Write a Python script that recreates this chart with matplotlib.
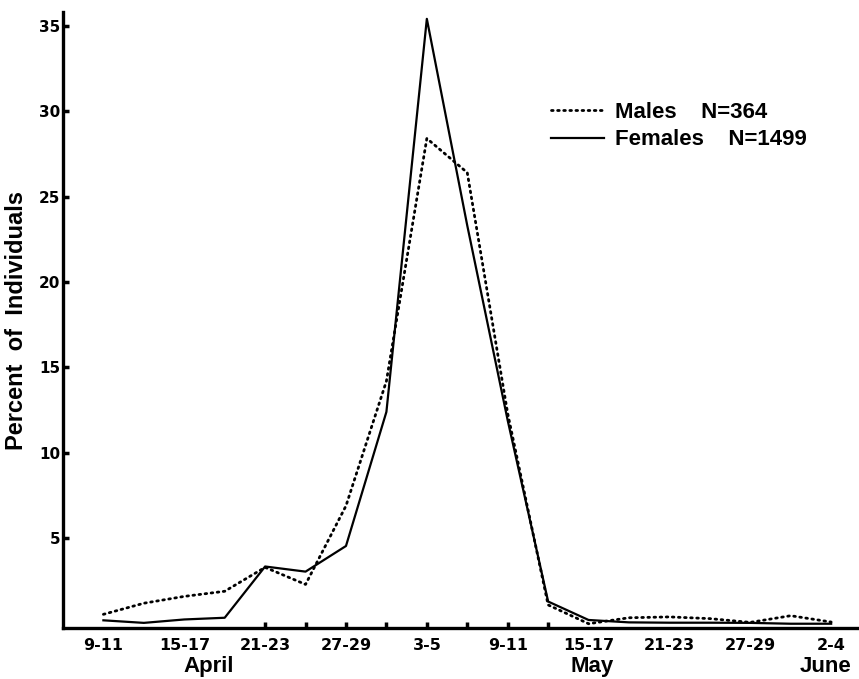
import matplotlib
matplotlib.use("Agg")
import matplotlib.pyplot as plt
from matplotlib import font_manager

# ---- data ----
periods = ["9-11", "12-14", "15-17", "18-20", "21-23", "24-26", "27-29", "30-2",
           "3-5", "6-8", "9-11", "12-14", "15-17", "18-20", "21-23", "24-26",
           "27-29", "30-1", "2-4"]
males = [0.55, 1.2, 1.6, 1.9, 3.3, 2.3, 6.9, 14.2, 28.4, 26.4, 12.3, 1.1,
         0.0, 0.35, 0.4, 0.3, 0.08, 0.47, 0.1]
females = [0.2, 0.05, 0.25, 0.35, 3.35, 3.05, 4.55, 12.4, 35.4, 23.3, 11.9, 1.3,
           0.22, 0.08, 0.06, 0.06, 0.05, 0.0, 0.0]
yticks = [5, 10, 15, 20, 25, 30, 35]
months = ["April", "May", "June"]
month_pos = [2.6, 12.1, 17.85]

names = {f.name for f in font_manager.fontManager.ttflist}
narrow = "Liberation Sans Narrow" if "Liberation Sans Narrow" in names else "DejaVu Sans"
main_font = "Liberation Sans"

fig = plt.figure(figsize=(8.59, 6.79), dpi=100)
ax = fig.add_axes([0.0733, 0.0751, 0.9244, 0.9072])

x = list(range(len(periods)))
ax.plot(x, males, color="black", lw=2.0, linestyle=(0, (0.6, 1.6)),
        dash_capstyle="round", label="Males    N=364")
ax.plot(x, females, color="black", lw=1.6, label="Females    N=1499")

ax.set_xlim(-1, 18.64)
ax.set_ylim(-0.25, 35.8)

for s in ["top", "right"]:
    ax.spines[s].set_visible(False)
for s in ["left", "bottom"]:
    ax.spines[s].set_linewidth(2.4)

ax.set_yticks(yticks)
ax.set_yticklabels([str(v) for v in yticks], fontfamily=narrow, fontweight="bold", fontsize=11)
ax.tick_params(axis="y", direction="in", length=4, width=2.5, pad=2)

ax.set_xticks(x)
ax.set_xticklabels([p if i % 2 == 0 else "" for i, p in enumerate(periods)],
                   fontfamily=narrow, fontweight="bold", fontsize=11.5)
ax.tick_params(axis="x", which="major", direction="in", length=4, width=2.5, pad=7)
for i, t in enumerate(ax.xaxis.get_major_ticks()):
    t.tick1line.set_visible(4 <= i <= 11)

ax.set_ylabel("Percent  of  Individuals", fontfamily=main_font, fontweight="bold",
              fontsize=17, labelpad=8)

for m, p in zip(months, month_pos):
    ax.text(p, -0.063, m, transform=ax.get_xaxis_transform(), ha="center", va="center",
            fontfamily=main_font, fontweight="bold", fontsize=16)

leg = ax.legend(loc="upper left", bbox_to_anchor=(0.59, 0.887), frameon=False,
                prop={"family": main_font, "weight": "bold", "size": 16},
                handlelength=2.35, handletextpad=0.5, labelspacing=0.3)

fig.savefig("out.png", dpi=100)
